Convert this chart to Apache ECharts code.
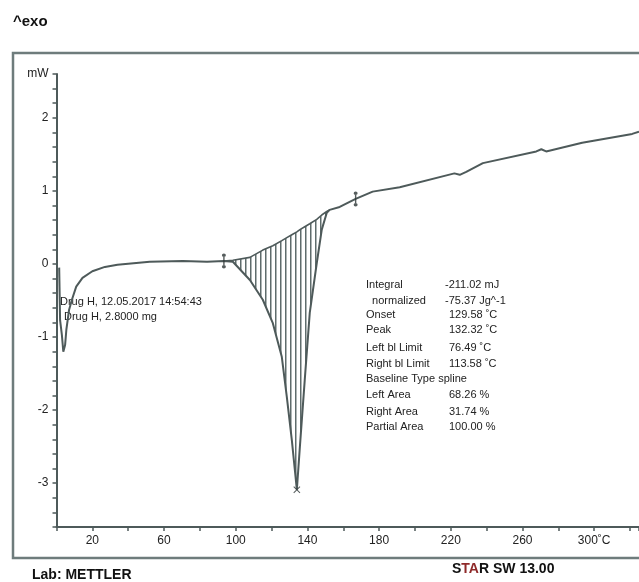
<!DOCTYPE html>
<html>
<head>
<meta charset="utf-8">
<script src="https://cdn.jsdelivr.net/npm/echarts@6/dist/echarts.min.js"></script>
<style>
  html, body { margin: 0; padding: 0; background: #fff; }
  #chart { width: 639px; height: 582px; }
</style>
</head>
<body>
<div id="chart"></div>
<script>
// DSC curve, temperature in degC and heat flow in mW
var curveT = [1.5, 2.0, 3.0, 3.8, 4.8, 5.5, 7, 8.6, 11, 14.5, 20, 27, 34, 52, 70.5, 84,
  93.4, 98.4, 107.9, 115.1, 120.7, 125.7, 128.5, 131.3, 134.1, 135.8, 138.5, 141.3, 145.2,
  148, 150.8, 152.4, 158, 166.9, 176.4, 191.5, 222, 225, 228.6, 237.9, 267.7, 270.5, 273.2,
  293.3, 321.2, 325];
var curveMW = [-0.05, -0.77, -0.97, -1.2, -1.11, -0.9, -0.63, -0.49, -0.31, -0.19, -0.1, -0.04, -0.01, 0.03, 0.04, 0.03,
  0.04, 0.03, -0.22, -0.49, -0.81, -1.27, -1.82, -2.41, -3.09, -2.5, -1.59, -0.67, 0.01,
  0.47, 0.70, 0.74, 0.78, 0.89, 0.99, 1.05, 1.24, 1.22, 1.26, 1.38, 1.54, 1.57, 1.54,
  1.66, 1.78, 1.81];

// integrated peak: curve (lower edge) and spline baseline (upper edge)
var hatchT = [93.4, 98.4, 107.9, 115.1, 120.7, 125.7, 128.5, 131.3, 134.1, 135.8, 138.5, 141.3, 145.2, 148, 150.8, 152.4];
var hatchLow = [0.04, 0.03, -0.22, -0.49, -0.81, -1.27, -1.82, -2.41, -3.09, -2.5, -1.59, -0.67, 0.01, 0.47, 0.70, 0.74];
var hatchBase = [0.04, 0.05, 0.09, 0.19, 0.25, 0.32, 0.36, 0.40, 0.44, 0.47, 0.51, 0.55, 0.61, 0.67, 0.72, 0.74];

// baseline limit marks and peak mark
var limitT = [93.4, 166.9];
var limitMW = [0.04, 0.89];
var peakT = [134.1];
var peakMW = [-3.09];

var xLabelValues = [20, 60, 100, 140, 180, 220, 260, 300];
var yLabelValues = [-3, -2, -1, 0, 1, 2];

var resultNames = ['Integral', '  normalized', 'Onset', 'Peak', 'Left bl Limit', 'Right bl Limit',
  'Baseline Type spline', 'Left Area', 'Right Area', 'Partial Area'];
var resultValues = ['-211.02 mJ', '-75.37 Jg^-1', '129.58 ˚C', '132.32 ˚C', '76.49 ˚C', '113.58 ˚C',
  '', '68.26 %', '31.74 %', '100.00 %'];
var resultRowY = [285, 301, 315, 330, 348, 364, 379, 395, 412, 427];

var FONT = '"Liberation Sans", Arial, sans-serif';
var INK = '#4e5a5a';

function pairs(xs, ys) {
  return xs.map(function(x, i) { return [x, ys[i]]; });
}

// vertical hatch used inside the integrated area
var hatch = document.createElement('canvas');
hatch.width = 5;
hatch.height = 8;
var hctx = hatch.getContext('2d');
hctx.fillStyle = '#ffffff';
hctx.fillRect(0, 0, 5, 8);
hctx.fillStyle = '#5f6c6c';
hctx.fillRect(0, 0, 1.5, 8);

var graphics = [
  { type: 'rect', shape: { x: 13, y: 53, width: 700, height: 505 },
    style: { fill: 'none', stroke: '#6e7c7c', lineWidth: 2.5 }, z: 0 },
  { type: 'text', x: 13, y: 22,
    style: { text: '^exo', font: 'bold 15px ' + FONT, fill: '#111', verticalAlign: 'middle' } },
  { type: 'text', x: 32, y: 575,
    style: { text: 'Lab: METTLER', font: 'bold 14px ' + FONT, fill: '#111', verticalAlign: 'middle' } },
  { type: 'text', x: 452, y: 569,
    style: {
      text: '{a|S}{b|TA}{a|R SW 13.00}', verticalAlign: 'middle',
      rich: {
        a: { font: 'bold 14px ' + FONT, fill: '#111' },
        b: { font: 'bold 14px ' + FONT, fill: '#8f2a2a' }
      }
    } },
  { type: 'text', x: 60, y: 302,
    style: { text: 'Drug H, 12.05.2017 14:54:43', font: '11px ' + FONT, fill: '#222', verticalAlign: 'middle' } },
  { type: 'text', x: 64, y: 317,
    style: { text: 'Drug H, 2.8000 mg', font: '11px ' + FONT, fill: '#222', verticalAlign: 'middle' } }
];
resultNames.forEach(function(name, i) {
  graphics.push({ type: 'text', x: 366, y: resultRowY[i],
    style: { text: name, font: '11px ' + FONT, fill: '#222', verticalAlign: 'middle' } });
  if (resultValues[i]) {
    graphics.push({ type: 'text', x: i < 2 ? 445 : 449, y: resultRowY[i],
      style: { text: resultValues[i], font: '11px ' + FONT, fill: '#222', verticalAlign: 'middle' } });
  }
});

// hatched region between baseline and curve, mapped through the axes
function renderHatch(params, api) {
  var pts = [];
  for (var i = 0; i < hatchT.length; i++) pts.push(api.coord([hatchT[i], hatchBase[i]]));
  for (var j = hatchT.length - 1; j >= 0; j--) pts.push(api.coord([hatchT[j], hatchLow[j]]));
  return {
    type: 'polygon',
    shape: { points: pts },
    style: { fill: { image: hatch, repeat: 'repeat' }, stroke: null }
  };
}

var chart = echarts.init(document.getElementById('chart'), null, { renderer: 'canvas' });
chart.setOption({
  animation: false,
  backgroundColor: '#fff',
  grid: { left: 56.5, right: 0, top: 74, bottom: 55, containLabel: false, outerBoundsMode: 'none' },
  xAxis: {
    type: 'value', min: 0, max: 325, interval: 20,
    axisLine: { onZero: false, lineStyle: { color: INK, width: 2 } },
    axisTick: { show: true, length: 4, lineStyle: { color: INK, width: 1.5 } },
    axisLabel: {
      margin: 8, color: '#222', fontSize: 12, fontFamily: FONT,
      formatter: function(v) {
        if (xLabelValues.indexOf(Math.round(v)) < 0 || Math.abs(v - Math.round(v)) > 1e-6) return '';
        return v === 300 ? '300˚C' : String(v);
      }
    },
    splitLine: { show: false }
  },
  yAxis: {
    type: 'value', min: -3.6, max: 2.6, interval: 0.2,
    axisLine: { show: true, onZero: false, lineStyle: { color: INK, width: 2 } },
    axisTick: { show: true, length: 4, lineStyle: { color: INK, width: 1.5 } },
    axisLabel: {
      margin: 8, color: '#222', fontSize: 12, fontFamily: FONT,
      formatter: function(v) {
        if (Math.abs(v - 2.6) < 1e-6) return 'mW';
        var r = Math.round(v);
        if (Math.abs(v - r) < 1e-6 && yLabelValues.indexOf(r) >= 0) return String(r);
        return '';
      }
    },
    splitLine: { show: false }
  },
  series: [
    {
      name: 'hatch', type: 'custom', silent: true,
      renderItem: renderHatch,
      data: [[hatchT[0], hatchBase[0]]],
      z: 1
    },
    {
      name: 'baseline', type: 'line', symbol: 'none', silent: true,
      data: pairs(hatchT, hatchBase),
      lineStyle: { color: INK, width: 1.6 }, z: 2
    },
    {
      name: 'DSC', type: 'line', symbol: 'none',
      data: pairs(curveT, curveMW),
      lineStyle: { color: INK, width: 2 }, z: 3
    },
    {
      name: 'limits', type: 'scatter',
      data: pairs(limitT, limitMW),
      symbol: 'path://M2,0 A2,2 0 1,1 1.99,0 Z M1.3,2 L2.7,2 L2.7,13 L1.3,13 Z M2,13 A2,2 0 1,1 1.99,13 Z',
      symbolSize: [4, 15],
      itemStyle: { color: '#2c3434' }, z: 4
    },
    {
      name: 'peak', type: 'scatter',
      data: pairs(peakT, peakMW),
      symbol: 'path://M0,1 L1,0 L5,4 L9,0 L10,1 L6,5 L10,9 L9,10 L5,6 L1,10 L0,9 L4,5 Z',
      symbolSize: 7,
      itemStyle: { color: '#2c3434' }, z: 4
    }
  ],
  graphic: graphics
});
</script>
</body>
</html>
